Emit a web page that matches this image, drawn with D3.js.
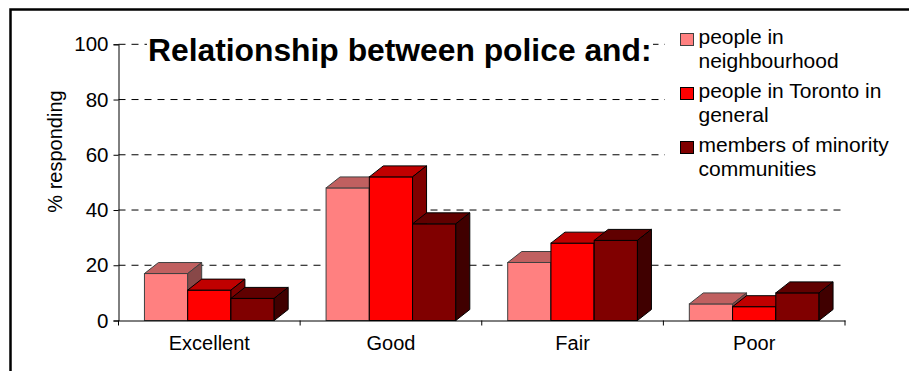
<meta charset="UTF-8">
<head>
  <script src="https://d3js.org/d3.v7.min.js"></script>
  <style>
    body { margin: 0; background: #fff; }
    text { font-family: Arial, "Liberation Sans", sans-serif; fill: #000; }
  </style>
</head>
<body>
  <svg id="svg" width="909" height="371"></svg>
  <script>
    // chart data
    const categories = ["Excellent", "Good", "Fair", "Poor"];
    const seriesNames = ["people in neighbourhood", "people in Toronto in general", "members of minority communities"];
    const legendLines = [["people in", "neighbourhood"], ["people in Toronto in", "general"], ["members of minority", "communities"]];
    const neighbourhood = [17, 48, 21, 6];
    const toronto = [11, 52, 28, 5];
    const minority = [8, 35, 29, 10];
    const yTicks = [0, 20, 40, 60, 80, 100];

    // front / top / side shades for each series
    const colors = [
      { front: "#ff8080", top: "#c06060", side: "#884848", stroke: "#404040" },
      { front: "#ff0000", top: "#c00000", side: "#800000", stroke: "#000" },
      { front: "#800000", top: "#600000", side: "#400000", stroke: "#000" }
    ];

    const values = [neighbourhood, toronto, minority];
    const depthX = 14, depthY = 11;

    const svg = d3.select("#svg");

    const y = d3.scaleLinear().domain([0, 100]).range([320.5, 44.3]);
    const x0 = d3.scaleBand().domain(categories).range([118.5, 845]).padding(0);
    const x1 = d3.scaleBand().domain(d3.range(seriesNames.length))
      .range([0, x0.bandwidth()]).paddingInner(0).paddingOuter(0.6);

    // frame
    svg.append("path").attr("d", "M10.5,371V9.5H909")
      .attr("fill", "none").attr("stroke", "#000").attr("stroke-width", 2.5);

    // gridlines
    svg.append("g").selectAll("line").data(yTicks.filter(d => d > 0)).join("line")
      .attr("x1", 118.5).attr("x2", 845)
      .attr("y1", d => y(d)).attr("y2", d => y(d))
      .attr("stroke", "#000").attr("stroke-width", 1)
      .attr("stroke-dasharray", "7,6");

    // y axis
    const yAxis = svg.append("g").attr("transform", "translate(118.5,0)")
      .call(d3.axisLeft(y).tickValues(yTicks).tickSize(5).tickPadding(5));
    yAxis.select(".domain").attr("stroke", "#000");
    yAxis.selectAll("text").attr("font-size", 20.5).attr("font-family", "Arial, 'Liberation Sans', sans-serif");

    // bars
    const groups = svg.append("g").selectAll("g").data(categories).join("g")
      .attr("transform", d => `translate(${x0(d)},0)`);

    groups.each(function (cat, ci) {
      const g = d3.select(this);
      values.forEach((vals, si) => {
        const c = colors[si];
        const xl = x1(si), xr = xl + x1.bandwidth();
        const yt = y(vals[ci]), yb = y(0);
        const b = g.append("g");
        b.append("rect").attr("x", xl).attr("y", yt)
          .attr("width", x1.bandwidth()).attr("height", yb - yt)
          .attr("fill", c.front).attr("stroke", c.stroke).attr("stroke-width", 1);
        b.append("path")
          .attr("d", `M${xl},${yt}L${xr},${yt}L${xr + depthX},${yt - depthY}L${xl + depthX},${yt - depthY}Z`)
          .attr("fill", c.top).attr("stroke", c.stroke).attr("stroke-width", 1).attr("stroke-linejoin", "round");
        b.append("path")
          .attr("d", `M${xr},${yt}L${xr + depthX},${yt - depthY}L${xr + depthX},${yb - depthY}L${xr},${yb}Z`)
          .attr("fill", c.side).attr("stroke", c.stroke).attr("stroke-width", 1).attr("stroke-linejoin", "round");
      });
    });

    // x axis
    const xAxis = svg.append("g").attr("transform", `translate(0,${y(0)})`)
      .call(d3.axisBottom(x0).tickSize(0).tickPadding(15));
    xAxis.select(".domain").attr("stroke", "#000");
    xAxis.selectAll("text").attr("font-size", 20).attr("font-family", "Arial, 'Liberation Sans', sans-serif");
    const bounds = categories.map(d => x0(d)).concat([x0.range()[1]]);
    xAxis.append("g").selectAll("line").data(bounds).join("line")
      .attr("x1", d => d).attr("x2", d => d).attr("y1", 0).attr("y2", 5)
      .attr("stroke", "#000");

    // y label
    svg.append("text").attr("transform", "translate(62,151.5) rotate(-90)")
      .attr("text-anchor", "middle").attr("font-size", 20).text("% responding");

    // title with white backing
    svg.append("rect").attr("x", 147).attr("y", 34).attr("width", 506).attr("height", 34).attr("fill", "#fff");
    svg.append("text").attr("x", 148).attr("y", 61)
      .attr("font-size", 31.8).attr("font-weight", "bold")
      .text("Relationship between police and:");

    // legend
    svg.append("rect").attr("x", 665).attr("y", 25).attr("width", 244).attr("height", 170).attr("fill", "#fff");
    const leg = svg.append("g").selectAll("g").data(seriesNames).join("g")
      .attr("transform", (d, i) => `translate(680,${33 + i * 54})`);
    leg.append("rect").attr("x", 0.5).attr("y", 0.5).attr("width", 13).attr("height", 12)
      .attr("fill", (d, i) => colors[i].front).attr("stroke", (d, i) => colors[i].stroke);
    leg.each(function (d, i) {
      d3.select(this).selectAll("text").data(legendLines[i]).join("text")
        .attr("x", 18.5).attr("y", (t, j) => 11 + j * 24)
        .attr("font-size", 21).text(t => t);
    });
  </script>
</body>
